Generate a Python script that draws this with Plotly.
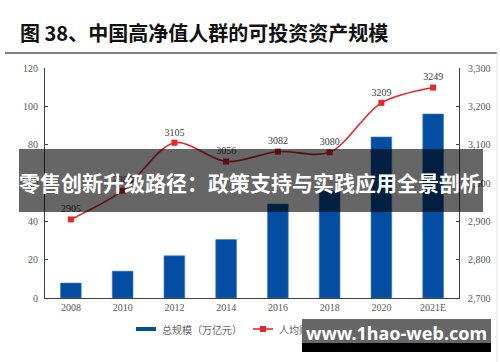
import plotly.graph_objects as go

# ---- data ----
years = ["2008", "2010", "2012", "2014", "2016", "2018", "2020", "2021E"]
total_scale = [7.8, 14, 22, 30.5, 49, 56, 84, 96]          # 万亿元 (left axis)
per_capita = [2905, 2980, 3105, 3056, 3082, 3080, 3209, 3249]  # 万元 (right axis)
left_ticks = [0, 20, 40, 60, 80, 100, 120]
right_ticks = [2700, 2800, 2900, 3000, 3100, 3200, 3300]

title_text = "图 38、中国高净值人群的可投资资产规模"
legend_bar = "总规模（万亿元）"
legend_line = "人均财富（万元，右轴）"
banner_text = "零售创新升级路径：政策支持与实践应用全景剖析"
wm_text = "www.1hao-web.com"

# ---- geometry helpers (pixel -> paper) ----
L, R, T, B = 45, 459, 68, 298
W, H = R - L, B - T
def px(x): return (x - L) / W
def py(y): return (B - y) / H

BLUE = "#034EA2"
RED = "#E7262B"
TICKFONT = dict(family="Liberation Serif, Times New Roman, serif", size=10, color="#595959")

fig = go.Figure()
fig.add_trace(go.Bar(
    x=years, y=total_scale, yaxis="y", width=0.4,
    marker=dict(color=BLUE, line=dict(color="#3C78C0", width=0.6)),
    showlegend=False, hoverinfo="skip"))
fig.add_trace(go.Scatter(
    x=years, y=per_capita, yaxis="y2", mode="lines+markers+text",
    line=dict(color=RED, width=1.6, shape="spline", smoothing=0.9),
    marker=dict(symbol="square", size=6, color=RED),
    text=[str(v) for v in per_capita], textposition="top center",
    textfont=dict(family="Liberation Serif, Times New Roman, serif", size=10, color="#404040"),
    showlegend=False, hoverinfo="skip"))

fig.update_layout(
    template="none",
    width=500, height=362, autosize=False,
    margin=dict(l=L, r=500 - R, t=T, b=362 - B, pad=0),
    paper_bgcolor="white", plot_bgcolor="white",
    bargap=0.6,
    xaxis=dict(type="category", showline=True, linecolor="#404040", linewidth=1,
               ticks="", showgrid=False, tickfont=TICKFONT, automargin=False),
    yaxis=dict(range=[0, 120], tickvals=left_ticks, showline=True, linecolor="#404040",
               linewidth=1, ticks="inside", ticklen=3, tickcolor="#404040",
               showgrid=False, zeroline=False, tickfont=TICKFONT, ticklabelstandoff=4,
               automargin=False),
    yaxis2=dict(range=[2700, 3300], tickvals=right_ticks, tickformat=",", overlaying="y",
                side="right", showline=True, linecolor="#404040", linewidth=1,
                ticks="inside", ticklen=3, tickcolor="#404040", showgrid=False,
                zeroline=False, tickfont=TICKFONT, ticklabelstandoff=6, automargin=False),
)

shapes = []
annotations = []

# title + underline
annotations.append(dict(x=px(18), y=py(32), xref="paper", yref="paper", xanchor="left",
                        yanchor="middle", showarrow=False, text="<b>" + title_text + "</b>",
                        font=dict(family="Noto Sans CJK SC", size=20, color="#111")))
shapes.append(dict(type="line", xref="paper", yref="paper", x0=px(5), x1=px(497),
                   y0=py(53), y1=py(53), line=dict(color="#555", width=1.5)))
shapes.append(dict(type="line", xref="paper", yref="paper", x0=px(497), x1=px(497),
                   y0=py(53), y1=py(362), line=dict(color="#e6e6e6", width=1)))

# custom legend
LY = 329
shapes.append(dict(type="line", xref="paper", yref="paper", x0=px(136), x1=px(156),
                   y0=py(LY), y1=py(LY), line=dict(color=BLUE, width=4)))
annotations.append(dict(x=px(160), y=py(LY), xref="paper", yref="paper", xanchor="left",
                        yanchor="middle", showarrow=False, text=legend_bar,
                        font=dict(family="Noto Sans CJK SC", size=10, color="#666")))
shapes.append(dict(type="line", xref="paper", yref="paper", x0=px(253), x1=px(273),
                   y0=py(LY), y1=py(LY), line=dict(color=RED, width=1.6)))
shapes.append(dict(type="rect", xref="paper", yref="paper", x0=px(260), x1=px(266),
                   y0=py(LY - 3), y1=py(LY + 3), fillcolor=RED, line=dict(width=0)))
annotations.append(dict(x=px(277), y=py(LY), xref="paper", yref="paper", xanchor="left",
                        yanchor="middle", showarrow=False, text=legend_line,
                        font=dict(family="Noto Sans CJK SC", size=10, color="#666")))

# banner overlay
shapes.append(dict(type="rect", xref="paper", yref="paper", layer="above",
                   x0=px(19), x1=px(483), y0=py(212), y1=py(149),
                   fillcolor="rgba(0,0,0,0.6)", line=dict(width=0)))
annotations.append(dict(x=px(250), y=py(182), xref="paper", yref="paper", xanchor="center",
                        yanchor="middle", showarrow=False, text="<b>" + banner_text + "</b>",
                        font=dict(family="Noto Sans CJK SC", size=21, color="white")))

# watermark box
shapes.append(dict(type="rect", xref="paper", yref="paper", layer="above",
                   x0=px(302), x1=px(491), y0=py(343), y1=py(319),
                   fillcolor="rgba(0,0,0,0.6)", line=dict(width=0)))
shapes.append(dict(type="rect", xref="paper", yref="paper", layer="above",
                   x0=px(302), x1=px(491), y0=py(352), y1=py(343),
                   fillcolor="black", line=dict(width=0)))
annotations.append(dict(x=px(396), y=py(333), xref="paper", yref="paper", xanchor="center",
                        yanchor="middle", showarrow=False, text="<b>" + wm_text + "</b>",
                        font=dict(family="Noto Sans", size=18, color="white")))

fig.update_layout(shapes=shapes, annotations=annotations)
fig.write_html("out.html", config={"displayModeBar": False},
               post_script="document.body.style.margin='0';document.body.style.overflow='hidden';")
